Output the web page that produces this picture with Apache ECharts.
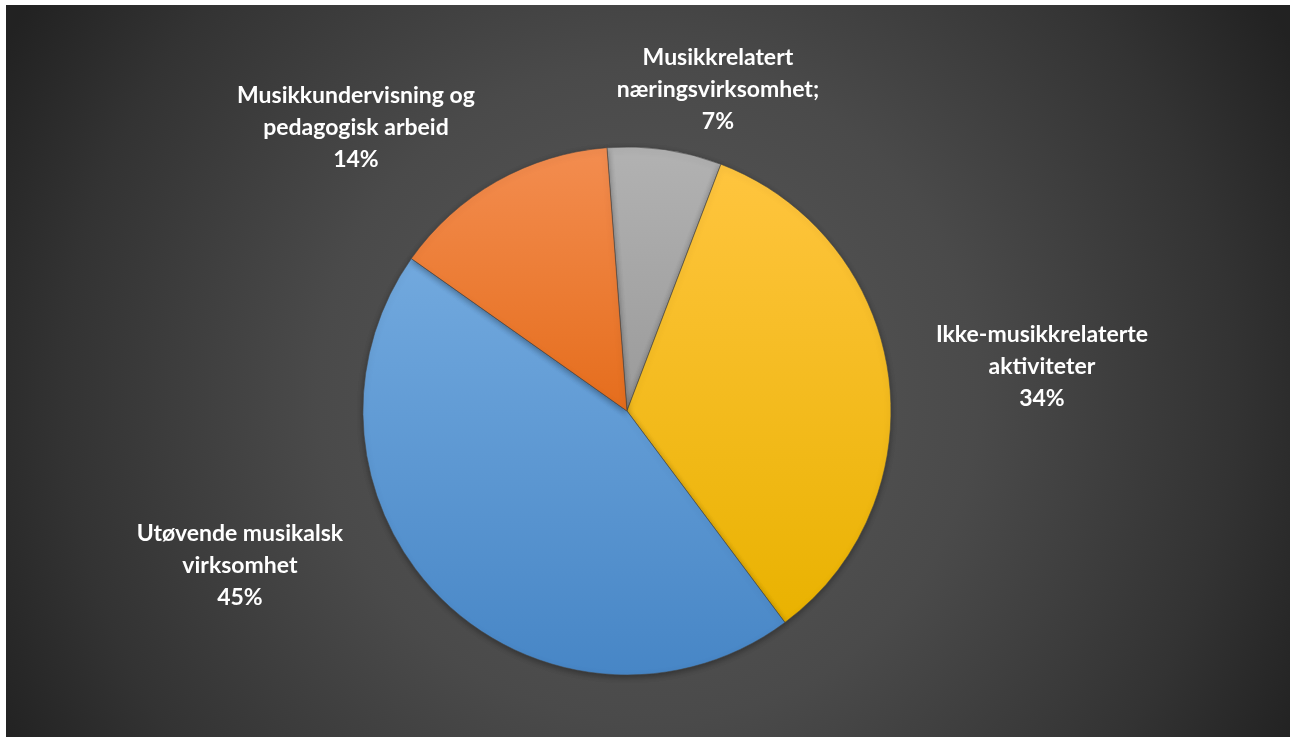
<!DOCTYPE html>
<html>
<head>
<meta charset="utf-8">
<script src="https://cdn.jsdelivr.net/npm/echarts@6/dist/echarts.min.js"></script>
<style>
  html, body { margin: 0; padding: 0; background: #ffffff; }
  #chart { position: absolute; left: 6px; top: 5px; width: 1284px; height: 732px; }
</style>
</head>
<body>
<div id="chart"></div>
<script>
// Share of working time by activity (percent)
const categories = [
  'Musikkrelatert\nnæringsvirksomhet;',
  'Ikke-musikkrelaterte\naktiviteter',
  'Utøvende musikalsk\nvirksomhet',
  'Musikkundervisning og\npedagogisk arbeid'
];
const values = [7, 34, 45, 14];

// Slice fills: light at the top, deeper at the bottom
const sliceColors = [
  ['#b2b2b2', '#9a9a9a'],
  ['#ffc53f', '#e9b200'],
  ['#72a9de', '#4786c6'],
  ['#f38d50', '#e56d1c']
];

// Label centres, in pixels from the pie centre
const labelOffsets = [
  [91, -321],
  [415, -44],
  [-387, 155],
  [-271, -283]
];

const centerX = 0.4836, centerY = 0.5546;

const chart = echarts.init(document.getElementById('chart'), null, { renderer: 'canvas' });

const option = {
  backgroundColor: {
    type: 'radial', x: 0.5, y: 0.53, r: 1.0,
    colorStops: [
      { offset: 0, color: '#595959' },
      { offset: 0.45, color: '#4a4a4a' },
      { offset: 0.8, color: '#333333' },
      { offset: 1, color: '#222222' }
    ]
  },
  animation: false,
  series: [{
    type: 'pie',
    center: [(centerX * 100) + '%', (centerY * 100) + '%'],
    radius: 264,
    startAngle: 94.35,
    clockwise: true,
    avoidLabelOverlap: false,
    data: values.map((v, i) => ({
      name: categories[i],
      value: v,
      itemStyle: {
        color: {
          type: 'linear', x: 0, y: 0, x2: 0, y2: 1,
          colorStops: [
            { offset: 0, color: sliceColors[i][0] },
            { offset: 1, color: sliceColors[i][1] }
          ]
        }
      }
    })),
    itemStyle: {
      borderColor: 'rgba(70,70,70,0.55)',
      borderWidth: 1,
      shadowBlur: 6,
      shadowOffsetY: 2,
      shadowColor: 'rgba(0,0,0,0.35)'
    },
    label: {
      show: true,
      position: 'outside',
      formatter: '{b}\n{c}%',
      color: '#ffffff',
      fontFamily: 'Lato',
      fontWeight: 'bold',
      fontSize: 23,
      lineHeight: 32
    },
    labelLine: { show: false },
    labelLayout: function (params) {
      const off = labelOffsets[params.dataIndex];
      return {
        x: chart.getWidth() * centerX + off[0],
        y: chart.getHeight() * centerY + off[1],
        align: 'center',
        verticalAlign: 'middle'
      };
    },
    emphasis: { disabled: true }
  }]
};

chart.setOption(option);
</script>
</body>
</html>
